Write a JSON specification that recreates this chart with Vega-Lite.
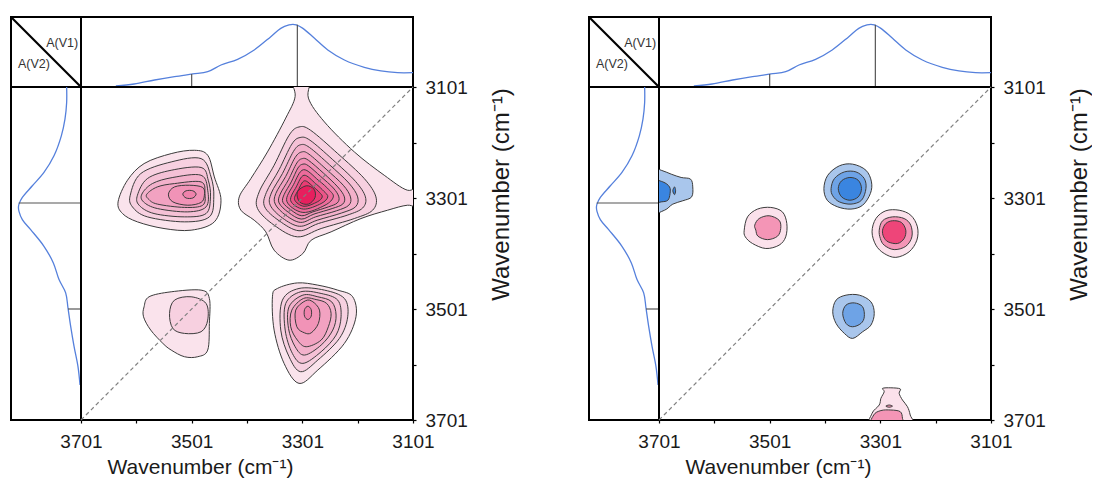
{
"$schema": "https://vega.github.io/schema/vega-lite/v6.json",
"padding": {"left": 8, "top": 14, "right": 0, "bottom": 0},
"bounds": "flush",
"spacing": 0,
"columns": 5,
"resolve": {"scale": {"fill": "independent"}},
"datasets": {
"spec": [
{"w":3101,"a":0.205},{"w":3129,"a":0.205},{"w":3159,"a":0.229},{"w":3189,"a":0.281},{"w":3225,"a":0.386},{"w":3255,"a":0.529},{"w":3279,"a":0.695},{"w":3300,"a":0.838},{"w":3312,"a":0.886},{"w":3318,"a":0.894},{"w":3325,"a":0.886},{"w":3340,"a":0.838},{"w":3358,"a":0.719},{"w":3388,"a":0.529},{"w":3418,"a":0.395},{"w":3448,"a":0.314},{"w":3472,"a":0.219},{"w":3499,"a":0.186},{"w":3532,"a":0.148},{"w":3568,"a":0.1},{"w":3605,"a":0.043},{"w":3638,"a":0.014}
],
"peaks": [{"w":3501,"a":0.186},{"w":3310,"a":0.89}],
"cl": [
{"c":"B01","l":1,"o":1,"x":3320,"y":3085},{"c":"B01","l":1,"o":2,"x":3314,"y":3118},{"c":"B01","l":1,"o":3,"x":3331,"y":3157},{"c":"B01","l":1,"o":4,"x":3364,"y":3218},{"c":"B01","l":1,"o":5,"x":3394,"y":3266},{"c":"B01","l":1,"o":6,"x":3415,"y":3299},{"c":"B01","l":1,"o":7,"x":3412,"y":3323},{"c":"B01","l":1,"o":8,"x":3388,"y":3341},{"c":"B01","l":1,"o":9,"x":3367,"y":3362},{"c":"B01","l":1,"o":10,"x":3352,"y":3395},{"c":"B01","l":1,"o":11,"x":3325,"y":3413},{"c":"B01","l":1,"o":12,"x":3300,"y":3401},{"c":"B01","l":1,"o":13,"x":3285,"y":3377},{"c":"B01","l":1,"o":14,"x":3249,"y":3362},{"c":"B01","l":1,"o":15,"x":3195,"y":3338},{"c":"B01","l":1,"o":16,"x":3147,"y":3323},{"c":"B01","l":1,"o":17,"x":3111,"y":3314},{"c":"B01","l":1,"o":18,"x":3087,"y":3317},{"c":"B01","l":1,"o":19,"x":3087,"y":3279},{"c":"B01","l":1,"o":20,"x":3111,"y":3287},{"c":"B01","l":1,"o":21,"x":3153,"y":3260},{"c":"B01","l":1,"o":22,"x":3207,"y":3218},{"c":"B01","l":1,"o":23,"x":3261,"y":3164},{"c":"B01","l":1,"o":24,"x":3290,"y":3121},{"c":"B01","l":1,"o":25,"x":3287,"y":3085},
{"c":"B02","l":2,"o":1,"x":3307,"y":3173},{"c":"B02","l":2,"o":2,"x":3286,"y":3179},{"c":"B02","l":2,"o":3,"x":3237,"y":3221},{"c":"B02","l":2,"o":4,"x":3189,"y":3266},{"c":"B02","l":2,"o":5,"x":3168,"y":3299},{"c":"B02","l":2,"o":6,"x":3174,"y":3323},{"c":"B02","l":2,"o":7,"x":3207,"y":3338},{"c":"B02","l":2,"o":8,"x":3267,"y":3356},{"c":"B02","l":2,"o":9,"x":3310,"y":3371},{"c":"B02","l":2,"o":10,"x":3352,"y":3350},{"c":"B02","l":2,"o":11,"x":3382,"y":3320},{"c":"B02","l":2,"o":12,"x":3379,"y":3290},{"c":"B02","l":2,"o":13,"x":3352,"y":3242},{"c":"B02","l":2,"o":14,"x":3325,"y":3188},
{"c":"B03","l":3,"o":1,"x":3305,"y":3192},{"c":"B03","l":3,"o":2,"x":3287,"y":3197},{"c":"B03","l":3,"o":3,"x":3246,"y":3232},{"c":"B03","l":3,"o":4,"x":3205,"y":3271},{"c":"B03","l":3,"o":5,"x":3187,"y":3299},{"c":"B03","l":3,"o":6,"x":3192,"y":3319},{"c":"B03","l":3,"o":7,"x":3220,"y":3332},{"c":"B03","l":3,"o":8,"x":3272,"y":3347},{"c":"B03","l":3,"o":9,"x":3307,"y":3360},{"c":"B03","l":3,"o":10,"x":3343,"y":3342},{"c":"B03","l":3,"o":11,"x":3369,"y":3317},{"c":"B03","l":3,"o":12,"x":3366,"y":3291},{"c":"B03","l":3,"o":13,"x":3343,"y":3250},{"c":"B03","l":3,"o":14,"x":3320,"y":3204},
{"c":"B04","l":4,"o":1,"x":3304,"y":3205},{"c":"B04","l":4,"o":2,"x":3288,"y":3210},{"c":"B04","l":4,"o":3,"x":3252,"y":3241},{"c":"B04","l":4,"o":4,"x":3217,"y":3274},{"c":"B04","l":4,"o":5,"x":3201,"y":3299},{"c":"B04","l":4,"o":6,"x":3205,"y":3317},{"c":"B04","l":4,"o":7,"x":3230,"y":3328},{"c":"B04","l":4,"o":8,"x":3274,"y":3341},{"c":"B04","l":4,"o":9,"x":3306,"y":3352},{"c":"B04","l":4,"o":10,"x":3337,"y":3337},{"c":"B04","l":4,"o":11,"x":3359,"y":3314},{"c":"B04","l":4,"o":12,"x":3357,"y":3292},{"c":"B04","l":4,"o":13,"x":3337,"y":3257},{"c":"B04","l":4,"o":14,"x":3317,"y":3217},
{"c":"B05","l":5,"o":1,"x":3302,"y":3218},{"c":"B05","l":5,"o":2,"x":3289,"y":3222},{"c":"B05","l":5,"o":3,"x":3258,"y":3249},{"c":"B05","l":5,"o":4,"x":3227,"y":3278},{"c":"B05","l":5,"o":5,"x":3214,"y":3299},{"c":"B05","l":5,"o":6,"x":3217,"y":3314},{"c":"B05","l":5,"o":7,"x":3239,"y":3324},{"c":"B05","l":5,"o":8,"x":3277,"y":3335},{"c":"B05","l":5,"o":9,"x":3304,"y":3345},{"c":"B05","l":5,"o":10,"x":3331,"y":3332},{"c":"B05","l":5,"o":11,"x":3350,"y":3312},{"c":"B05","l":5,"o":12,"x":3349,"y":3293},{"c":"B05","l":5,"o":13,"x":3331,"y":3262},{"c":"B05","l":5,"o":14,"x":3314,"y":3228},
{"c":"B06","l":6,"o":1,"x":3301,"y":3230},{"c":"B06","l":6,"o":2,"x":3290,"y":3233},{"c":"B06","l":6,"o":3,"x":3263,"y":3256},{"c":"B06","l":6,"o":4,"x":3237,"y":3281},{"c":"B06","l":6,"o":5,"x":3225,"y":3299},{"c":"B06","l":6,"o":6,"x":3228,"y":3312},{"c":"B06","l":6,"o":7,"x":3247,"y":3320},{"c":"B06","l":6,"o":8,"x":3280,"y":3330},{"c":"B06","l":6,"o":9,"x":3303,"y":3339},{"c":"B06","l":6,"o":10,"x":3326,"y":3327},{"c":"B06","l":6,"o":11,"x":3343,"y":3310},{"c":"B06","l":6,"o":12,"x":3341,"y":3294},{"c":"B06","l":6,"o":13,"x":3326,"y":3268},{"c":"B06","l":6,"o":14,"x":3311,"y":3238},
{"c":"B07","l":7,"o":1,"x":3300,"y":3240},{"c":"B07","l":7,"o":2,"x":3290,"y":3243},{"c":"B07","l":7,"o":3,"x":3268,"y":3262},{"c":"B07","l":7,"o":4,"x":3245,"y":3283},{"c":"B07","l":7,"o":5,"x":3235,"y":3299},{"c":"B07","l":7,"o":6,"x":3238,"y":3310},{"c":"B07","l":7,"o":7,"x":3254,"y":3317},{"c":"B07","l":7,"o":8,"x":3282,"y":3326},{"c":"B07","l":7,"o":9,"x":3302,"y":3333},{"c":"B07","l":7,"o":10,"x":3321,"y":3323},{"c":"B07","l":7,"o":11,"x":3336,"y":3309},{"c":"B07","l":7,"o":12,"x":3334,"y":3295},{"c":"B07","l":7,"o":13,"x":3321,"y":3272},{"c":"B07","l":7,"o":14,"x":3309,"y":3247},
{"c":"B08","l":8,"o":1,"x":3299,"y":3250},{"c":"B08","l":8,"o":2,"x":3272,"y":3269},{"c":"B08","l":8,"o":3,"x":3253,"y":3286},{"c":"B08","l":8,"o":4,"x":3245,"y":3299},{"c":"B08","l":8,"o":5,"x":3260,"y":3314},{"c":"B08","l":8,"o":6,"x":3300,"y":3327},{"c":"B08","l":8,"o":7,"x":3329,"y":3307},{"c":"B08","l":8,"o":8,"x":3317,"y":3277},
{"c":"B09","l":9,"o":1,"x":3298,"y":3260},{"c":"B09","l":9,"o":2,"x":3277,"y":3275},{"c":"B09","l":9,"o":3,"x":3262,"y":3289},{"c":"B09","l":9,"o":4,"x":3255,"y":3299},{"c":"B09","l":9,"o":5,"x":3267,"y":3311},{"c":"B09","l":9,"o":6,"x":3299,"y":3321},{"c":"B09","l":9,"o":7,"x":3322,"y":3306},{"c":"B09","l":9,"o":8,"x":3312,"y":3281},
{"c":"B10","l":10,"o":1,"x":3297,"y":3270},{"c":"B10","l":10,"o":2,"x":3281,"y":3281},{"c":"B10","l":10,"o":3,"x":3270,"y":3291},{"c":"B10","l":10,"o":4,"x":3265,"y":3299},{"c":"B10","l":10,"o":5,"x":3274,"y":3308},{"c":"B10","l":10,"o":6,"x":3298,"y":3316},{"c":"B10","l":10,"o":7,"x":3315,"y":3304},{"c":"B10","l":10,"o":8,"x":3308,"y":3286},
{"c":"B11","l":11,"o":1,"x":3294,"y":3279},{"c":"B11","l":11,"o":2,"x":3280,"y":3285},{"c":"B11","l":11,"o":3,"x":3278,"y":3300},{"c":"B11","l":11,"o":4,"x":3290,"y":3312},{"c":"B11","l":11,"o":5,"x":3306,"y":3308},{"c":"B11","l":11,"o":6,"x":3310,"y":3290},
{"c":"C1","l":1,"o":1,"x":3634,"y":3308},{"c":"C1","l":1,"o":2,"x":3617,"y":3269},{"c":"C1","l":1,"o":3,"x":3587,"y":3239},{"c":"C1","l":1,"o":4,"x":3538,"y":3221},{"c":"C1","l":1,"o":5,"x":3496,"y":3215},{"c":"C1","l":1,"o":6,"x":3472,"y":3224},{"c":"C1","l":1,"o":7,"x":3460,"y":3263},{"c":"C1","l":1,"o":8,"x":3448,"y":3305},{"c":"C1","l":1,"o":9,"x":3460,"y":3344},{"c":"C1","l":1,"o":10,"x":3502,"y":3359},{"c":"C1","l":1,"o":11,"x":3551,"y":3356},{"c":"C1","l":1,"o":12,"x":3599,"y":3344},{"c":"C1","l":1,"o":13,"x":3626,"y":3329},
{"c":"C2","l":2,"o":1,"x":3612,"y":3296},{"c":"C2","l":2,"o":2,"x":3593,"y":3257},{"c":"C2","l":2,"o":3,"x":3538,"y":3236},{"c":"C2","l":2,"o":4,"x":3484,"y":3230},{"c":"C2","l":2,"o":5,"x":3466,"y":3263},{"c":"C2","l":2,"o":6,"x":3461,"y":3299},{"c":"C2","l":2,"o":7,"x":3469,"y":3335},{"c":"C2","l":2,"o":8,"x":3514,"y":3344},{"c":"C2","l":2,"o":9,"x":3581,"y":3335},{"c":"C2","l":2,"o":10,"x":3608,"y":3317},
{"c":"C3","l":3,"o":1,"x":3599,"y":3296},{"c":"C3","l":3,"o":2,"x":3581,"y":3266},{"c":"C3","l":3,"o":3,"x":3538,"y":3251},{"c":"C3","l":3,"o":4,"x":3484,"y":3246},{"c":"C3","l":3,"o":5,"x":3471,"y":3269},{"c":"C3","l":3,"o":6,"x":3467,"y":3299},{"c":"C3","l":3,"o":7,"x":3475,"y":3329},{"c":"C3","l":3,"o":8,"x":3514,"y":3335},{"c":"C3","l":3,"o":9,"x":3569,"y":3329},{"c":"C3","l":3,"o":10,"x":3596,"y":3314},
{"c":"C4","l":4,"o":1,"x":3591,"y":3294},{"c":"C4","l":4,"o":2,"x":3572,"y":3275},{"c":"C4","l":4,"o":3,"x":3535,"y":3264},{"c":"C4","l":4,"o":4,"x":3484,"y":3260},{"c":"C4","l":4,"o":5,"x":3472,"y":3287},{"c":"C4","l":4,"o":6,"x":3475,"y":3317},{"c":"C4","l":4,"o":7,"x":3508,"y":3326},{"c":"C4","l":4,"o":8,"x":3563,"y":3320},{"c":"C4","l":4,"o":9,"x":3588,"y":3308},
{"c":"C5","l":5,"o":1,"x":3582,"y":3294},{"c":"C5","l":5,"o":2,"x":3563,"y":3281},{"c":"C5","l":5,"o":3,"x":3532,"y":3275},{"c":"C5","l":5,"o":4,"x":3484,"y":3272},{"c":"C5","l":5,"o":5,"x":3477,"y":3293},{"c":"C5","l":5,"o":6,"x":3481,"y":3314},{"c":"C5","l":5,"o":7,"x":3514,"y":3318},{"c":"C5","l":5,"o":8,"x":3563,"y":3312},{"c":"C5","l":5,"o":9,"x":3579,"y":3303},
{"c":"C6","l":6,"o":1,"x":3543,"y":3294},{"c":"C6","l":6,"o":2,"x":3532,"y":3281},{"c":"C6","l":6,"o":3,"x":3505,"y":3278},{"c":"C6","l":6,"o":4,"x":3481,"y":3282},{"c":"C6","l":6,"o":5,"x":3478,"y":3296},{"c":"C6","l":6,"o":6,"x":3484,"y":3309},{"c":"C6","l":6,"o":7,"x":3508,"y":3314},{"c":"C6","l":6,"o":8,"x":3535,"y":3308},
{"c":"C7","l":7,"o":1,"x":3517,"y":3294},{"c":"C7","l":7,"o":2,"x":3511,"y":3288},{"c":"C7","l":7,"o":3,"x":3499,"y":3288},{"c":"C7","l":7,"o":4,"x":3493,"y":3294},{"c":"C7","l":7,"o":5,"x":3499,"y":3301},{"c":"C7","l":7,"o":6,"x":3511,"y":3301},
{"c":"E1","l":1,"o":1,"x":3587,"y":3497},{"c":"E1","l":1,"o":2,"x":3578,"y":3479},{"c":"E1","l":1,"o":3,"x":3538,"y":3470},{"c":"E1","l":1,"o":4,"x":3484,"y":3467},{"c":"E1","l":1,"o":5,"x":3469,"y":3482},{"c":"E1","l":1,"o":6,"x":3469,"y":3527},{"c":"E1","l":1,"o":7,"x":3472,"y":3575},{"c":"E1","l":1,"o":8,"x":3490,"y":3587},{"c":"E1","l":1,"o":9,"x":3514,"y":3587},{"c":"E1","l":1,"o":10,"x":3538,"y":3575},{"c":"E1","l":1,"o":11,"x":3553,"y":3563},{"c":"E1","l":1,"o":12,"x":3575,"y":3539},{"c":"E1","l":1,"o":13,"x":3588,"y":3515},
{"c":"E2","l":2,"o":1,"x":3541,"y":3509},{"c":"E2","l":2,"o":2,"x":3532,"y":3485},{"c":"E2","l":2,"o":3,"x":3502,"y":3479},{"c":"E2","l":2,"o":4,"x":3475,"y":3491},{"c":"E2","l":2,"o":5,"x":3472,"y":3521},{"c":"E2","l":2,"o":6,"x":3484,"y":3542},{"c":"E2","l":2,"o":7,"x":3514,"y":3545},{"c":"E2","l":2,"o":8,"x":3535,"y":3536},
{"c":"F1","l":1,"o":1,"x":3310,"y":3454},{"c":"F1","l":1,"o":2,"x":3346,"y":3464},{"c":"F1","l":1,"o":3,"x":3355,"y":3479},{"c":"F1","l":1,"o":4,"x":3352,"y":3539},{"c":"F1","l":1,"o":5,"x":3334,"y":3599},{"c":"F1","l":1,"o":6,"x":3307,"y":3635},{"c":"F1","l":1,"o":7,"x":3273,"y":3611},{"c":"F1","l":1,"o":8,"x":3225,"y":3563},{"c":"F1","l":1,"o":9,"x":3204,"y":3515},{"c":"F1","l":1,"o":10,"x":3210,"y":3479},{"c":"F1","l":1,"o":11,"x":3237,"y":3467},{"c":"F1","l":1,"o":12,"x":3273,"y":3458},
{"c":"F2","l":2,"o":1,"x":3307,"y":3464},{"c":"F2","l":2,"o":2,"x":3337,"y":3485},{"c":"F2","l":2,"o":3,"x":3340,"y":3539},{"c":"F2","l":2,"o":4,"x":3325,"y":3587},{"c":"F2","l":2,"o":5,"x":3304,"y":3614},{"c":"F2","l":2,"o":6,"x":3273,"y":3593},{"c":"F2","l":2,"o":7,"x":3234,"y":3554},{"c":"F2","l":2,"o":8,"x":3219,"y":3515},{"c":"F2","l":2,"o":9,"x":3225,"y":3482},{"c":"F2","l":2,"o":10,"x":3261,"y":3467},
{"c":"F3","l":3,"o":1,"x":3304,"y":3470},{"c":"F3","l":3,"o":2,"x":3331,"y":3491},{"c":"F3","l":3,"o":3,"x":3332,"y":3539},{"c":"F3","l":3,"o":4,"x":3319,"y":3581},{"c":"F3","l":3,"o":5,"x":3300,"y":3599},{"c":"F3","l":3,"o":6,"x":3267,"y":3578},{"c":"F3","l":3,"o":7,"x":3240,"y":3548},{"c":"F3","l":3,"o":8,"x":3231,"y":3515},{"c":"F3","l":3,"o":9,"x":3237,"y":3485},{"c":"F3","l":3,"o":10,"x":3267,"y":3473},
{"c":"F4","l":4,"o":1,"x":3300,"y":3476},{"c":"F4","l":4,"o":2,"x":3325,"y":3497},{"c":"F4","l":4,"o":3,"x":3326,"y":3536},{"c":"F4","l":4,"o":4,"x":3314,"y":3569},{"c":"F4","l":4,"o":5,"x":3297,"y":3584},{"c":"F4","l":4,"o":6,"x":3267,"y":3566},{"c":"F4","l":4,"o":7,"x":3246,"y":3539},{"c":"F4","l":4,"o":8,"x":3240,"y":3512},{"c":"F4","l":4,"o":9,"x":3248,"y":3488},{"c":"F4","l":4,"o":10,"x":3273,"y":3479},
{"c":"F5","l":5,"o":1,"x":3299,"y":3482},{"c":"F5","l":5,"o":2,"x":3320,"y":3503},{"c":"F5","l":5,"o":3,"x":3322,"y":3533},{"c":"F5","l":5,"o":4,"x":3310,"y":3557},{"c":"F5","l":5,"o":5,"x":3294,"y":3569},{"c":"F5","l":5,"o":6,"x":3267,"y":3557},{"c":"F5","l":5,"o":7,"x":3254,"y":3533},{"c":"F5","l":5,"o":8,"x":3249,"y":3509},{"c":"F5","l":5,"o":9,"x":3257,"y":3491},{"c":"F5","l":5,"o":10,"x":3276,"y":3484},
{"c":"F6","l":6,"o":1,"x":3295,"y":3486},{"c":"F6","l":6,"o":2,"x":3313,"y":3503},{"c":"F6","l":6,"o":3,"x":3311,"y":3533},{"c":"F6","l":6,"o":4,"x":3297,"y":3544},{"c":"F6","l":6,"o":5,"x":3285,"y":3544},{"c":"F6","l":6,"o":6,"x":3272,"y":3527},{"c":"F6","l":6,"o":7,"x":3270,"y":3503},{"c":"F6","l":6,"o":8,"x":3282,"y":3488},
{"c":"F7","l":7,"o":1,"x":3291,"y":3496},{"c":"F7","l":7,"o":2,"x":3297,"y":3502},{"c":"F7","l":7,"o":3,"x":3297,"y":3514},{"c":"F7","l":7,"o":4,"x":3291,"y":3520},{"c":"F7","l":7,"o":5,"x":3285,"y":3514},{"c":"F7","l":7,"o":6,"x":3285,"y":3502}
],
"cr": [
{"c":"P1a","l":-1,"o":1,"x":3715,"y":3248},{"c":"P1a","l":-1,"o":2,"x":3697,"y":3251},{"c":"P1a","l":-1,"o":3,"x":3679,"y":3258},{"c":"P1a","l":-1,"o":4,"x":3661,"y":3264},{"c":"P1a","l":-1,"o":5,"x":3644,"y":3267},{"c":"P1a","l":-1,"o":6,"x":3640,"y":3281},{"c":"P1a","l":-1,"o":7,"x":3642,"y":3299},{"c":"P1a","l":-1,"o":8,"x":3658,"y":3306},{"c":"P1a","l":-1,"o":9,"x":3676,"y":3312},{"c":"P1a","l":-1,"o":10,"x":3691,"y":3323},{"c":"P1a","l":-1,"o":11,"x":3715,"y":3327},{"c":"P1a","l":-1,"o":12,"x":3727,"y":3287},
{"c":"P1b","l":-3,"o":1,"x":3715,"y":3269},{"c":"P1b","l":-3,"o":2,"x":3694,"y":3272},{"c":"P1b","l":-3,"o":3,"x":3682,"y":3281},{"c":"P1b","l":-3,"o":4,"x":3681,"y":3293},{"c":"P1b","l":-3,"o":5,"x":3685,"y":3305},{"c":"P1b","l":-3,"o":6,"x":3697,"y":3308},{"c":"P1b","l":-3,"o":7,"x":3715,"y":3309},{"c":"P1b","l":-3,"o":8,"x":3727,"y":3290},
{"c":"P1c","l":-3,"o":1,"x":3673,"y":3281},{"c":"P1c","l":-3,"o":2,"x":3671,"y":3288},{"c":"P1c","l":-3,"o":3,"x":3673,"y":3295},{"c":"P1c","l":-3,"o":4,"x":3676,"y":3288},
{"c":"P2a","l":1,"o":1,"x":3547,"y":3359},{"c":"P2a","l":1,"o":2,"x":3541,"y":3335},{"c":"P2a","l":1,"o":3,"x":3523,"y":3321},{"c":"P2a","l":1,"o":4,"x":3499,"y":3318},{"c":"P2a","l":1,"o":5,"x":3478,"y":3326},{"c":"P2a","l":1,"o":6,"x":3470,"y":3347},{"c":"P2a","l":1,"o":7,"x":3472,"y":3371},{"c":"P2a","l":1,"o":8,"x":3484,"y":3386},{"c":"P2a","l":1,"o":9,"x":3508,"y":3392},{"c":"P2a","l":1,"o":10,"x":3532,"y":3383},{"c":"P2a","l":1,"o":11,"x":3545,"y":3371},
{"c":"P2b","l":2,"o":1,"x":3528,"y":3350},{"c":"P2b","l":2,"o":2,"x":3520,"y":3338},{"c":"P2b","l":2,"o":3,"x":3502,"y":3333},{"c":"P2b","l":2,"o":4,"x":3484,"y":3341},{"c":"P2b","l":2,"o":5,"x":3481,"y":3356},{"c":"P2b","l":2,"o":6,"x":3487,"y":3370},{"c":"P2b","l":2,"o":7,"x":3505,"y":3376},{"c":"P2b","l":2,"o":8,"x":3522,"y":3370},{"c":"P2b","l":2,"o":9,"x":3526,"y":3359},
{"c":"P3a","l":-1,"o":1,"x":3403,"y":3284},{"c":"P3a","l":-1,"o":2,"x":3396,"y":3260},{"c":"P3a","l":-1,"o":3,"x":3375,"y":3243},{"c":"P3a","l":-1,"o":4,"x":3351,"y":3240},{"c":"P3a","l":-1,"o":5,"x":3327,"y":3251},{"c":"P3a","l":-1,"o":6,"x":3317,"y":3272},{"c":"P3a","l":-1,"o":7,"x":3319,"y":3293},{"c":"P3a","l":-1,"o":8,"x":3333,"y":3314},{"c":"P3a","l":-1,"o":9,"x":3354,"y":3321},{"c":"P3a","l":-1,"o":10,"x":3378,"y":3317},{"c":"P3a","l":-1,"o":11,"x":3397,"y":3305},
{"c":"P3b","l":-2,"o":1,"x":3390,"y":3284},{"c":"P3b","l":-2,"o":2,"x":3384,"y":3266},{"c":"P3b","l":-2,"o":3,"x":3366,"y":3254},{"c":"P3b","l":-2,"o":4,"x":3345,"y":3254},{"c":"P3b","l":-2,"o":5,"x":3330,"y":3266},{"c":"P3b","l":-2,"o":6,"x":3327,"y":3284},{"c":"P3b","l":-2,"o":7,"x":3335,"y":3305},{"c":"P3b","l":-2,"o":8,"x":3354,"y":3312},{"c":"P3b","l":-2,"o":9,"x":3375,"y":3308},{"c":"P3b","l":-2,"o":10,"x":3387,"y":3297},
{"c":"P3c","l":-3,"o":1,"x":3377,"y":3284},{"c":"P3c","l":-3,"o":2,"x":3371,"y":3270},{"c":"P3c","l":-3,"o":3,"x":3356,"y":3264},{"c":"P3c","l":-3,"o":4,"x":3341,"y":3269},{"c":"P3c","l":-3,"o":5,"x":3335,"y":3284},{"c":"P3c","l":-3,"o":6,"x":3341,"y":3299},{"c":"P3c","l":-3,"o":7,"x":3356,"y":3305},{"c":"P3c","l":-3,"o":8,"x":3371,"y":3299},
{"c":"P4a","l":1,"o":1,"x":3316,"y":3362},{"c":"P4a","l":1,"o":2,"x":3309,"y":3338},{"c":"P4a","l":1,"o":3,"x":3291,"y":3324},{"c":"P4a","l":1,"o":4,"x":3267,"y":3323},{"c":"P4a","l":1,"o":5,"x":3246,"y":3332},{"c":"P4a","l":1,"o":6,"x":3234,"y":3353},{"c":"P4a","l":1,"o":7,"x":3235,"y":3377},{"c":"P4a","l":1,"o":8,"x":3249,"y":3398},{"c":"P4a","l":1,"o":9,"x":3273,"y":3408},{"c":"P4a","l":1,"o":10,"x":3294,"y":3401},{"c":"P4a","l":1,"o":11,"x":3309,"y":3386},
{"c":"P4b","l":2,"o":1,"x":3303,"y":3359},{"c":"P4b","l":2,"o":2,"x":3297,"y":3342},{"c":"P4b","l":2,"o":3,"x":3279,"y":3335},{"c":"P4b","l":2,"o":4,"x":3258,"y":3338},{"c":"P4b","l":2,"o":5,"x":3246,"y":3350},{"c":"P4b","l":2,"o":6,"x":3244,"y":3371},{"c":"P4b","l":2,"o":7,"x":3255,"y":3388},{"c":"P4b","l":2,"o":8,"x":3276,"y":3394},{"c":"P4b","l":2,"o":9,"x":3294,"y":3386},{"c":"P4b","l":2,"o":10,"x":3301,"y":3374},
{"c":"P4c","l":3,"o":1,"x":3297,"y":3359},{"c":"P4c","l":3,"o":2,"x":3291,"y":3347},{"c":"P4c","l":3,"o":3,"x":3279,"y":3342},{"c":"P4c","l":3,"o":4,"x":3263,"y":3345},{"c":"P4c","l":3,"o":5,"x":3255,"y":3359},{"c":"P4c","l":3,"o":6,"x":3258,"y":3374},{"c":"P4c","l":3,"o":7,"x":3270,"y":3383},{"c":"P4c","l":3,"o":8,"x":3287,"y":3380},{"c":"P4c","l":3,"o":9,"x":3295,"y":3371},
{"c":"P5a","l":-1,"o":1,"x":3387,"y":3506},{"c":"P5a","l":-1,"o":2,"x":3381,"y":3485},{"c":"P5a","l":-1,"o":3,"x":3363,"y":3476},{"c":"P5a","l":-1,"o":4,"x":3339,"y":3476},{"c":"P5a","l":-1,"o":5,"x":3318,"y":3488},{"c":"P5a","l":-1,"o":6,"x":3312,"y":3509},{"c":"P5a","l":-1,"o":7,"x":3318,"y":3530},{"c":"P5a","l":-1,"o":8,"x":3333,"y":3542},{"c":"P5a","l":-1,"o":9,"x":3351,"y":3554},{"c":"P5a","l":-1,"o":10,"x":3366,"y":3545},{"c":"P5a","l":-1,"o":11,"x":3381,"y":3527},
{"c":"P5b","l":-2,"o":1,"x":3369,"y":3509},{"c":"P5b","l":-2,"o":2,"x":3363,"y":3494},{"c":"P5b","l":-2,"o":3,"x":3348,"y":3490},{"c":"P5b","l":-2,"o":4,"x":3333,"y":3497},{"c":"P5b","l":-2,"o":5,"x":3330,"y":3515},{"c":"P5b","l":-2,"o":6,"x":3336,"y":3527},{"c":"P5b","l":-2,"o":7,"x":3351,"y":3533},{"c":"P5b","l":-2,"o":8,"x":3363,"y":3527},
{"c":"P6a","l":1,"o":1,"x":3317,"y":3713},{"c":"P6a","l":1,"o":2,"x":3316,"y":3689},{"c":"P6a","l":1,"o":3,"x":3303,"y":3674},{"c":"P6a","l":1,"o":4,"x":3300,"y":3662},{"c":"P6a","l":1,"o":5,"x":3294,"y":3650},{"c":"P6a","l":1,"o":6,"x":3297,"y":3644},{"c":"P6a","l":1,"o":7,"x":3282,"y":3643},{"c":"P6a","l":1,"o":8,"x":3265,"y":3645},{"c":"P6a","l":1,"o":9,"x":3267,"y":3653},{"c":"P6a","l":1,"o":10,"x":3261,"y":3665},{"c":"P6a","l":1,"o":11,"x":3252,"y":3677},{"c":"P6a","l":1,"o":12,"x":3247,"y":3692},{"c":"P6a","l":1,"o":13,"x":3244,"y":3713},
{"c":"P6b","l":2,"o":1,"x":3316,"y":3713},{"c":"P6b","l":2,"o":2,"x":3313,"y":3692},{"c":"P6b","l":2,"o":3,"x":3300,"y":3684},{"c":"P6b","l":2,"o":4,"x":3282,"y":3683},{"c":"P6b","l":2,"o":5,"x":3265,"y":3686},{"c":"P6b","l":2,"o":6,"x":3261,"y":3698},{"c":"P6b","l":2,"o":7,"x":3261,"y":3713},
{"c":"P6c","l":2,"o":1,"x":3291,"y":3676},{"c":"P6c","l":2,"o":2,"x":3285,"y":3674},{"c":"P6c","l":2,"o":3,"x":3279,"y":3676},{"c":"P6c","l":2,"o":4,"x":3285,"y":3678}
]
},
"concat": [
{"width": 70, "height": 70, "data": {"values": [{}]}, "layer": [
{"mark": {"type": "rule", "stroke": "#000", "strokeWidth": 2.2}, "encoding": {"x": {"datum": 0, "type": "quantitative", "scale": {"domain": [0, 1], "nice": false}, "axis": null}, "y": {"datum": 1, "type": "quantitative", "scale": {"domain": [0, 1], "nice": false}, "axis": null}, "x2": {"datum": 1}, "y2": {"datum": 0}}},
{"mark": {"type": "text", "text": "A(V1)", "align": "right", "baseline": "alphabetic", "fontSize": 12.5, "color": "#333"}, "encoding": {"x": {"datum": 0.96, "type": "quantitative"}, "y": {"datum": 0.565, "type": "quantitative"}}},
{"mark": {"type": "text", "text": "A(V2)", "align": "left", "baseline": "alphabetic", "fontSize": 12.5, "color": "#333"}, "encoding": {"x": {"datum": 0.1, "type": "quantitative"}, "y": {"datum": 0.27, "type": "quantitative"}}}
]},
{"width": 332, "height": 70, "layer": [
{"data": {"name": "spec"}, "mark": {"type": "line", "color": "#5580dc", "strokeWidth": 1.3, "interpolate": "catmull-rom", "clip": true}, "encoding": {"x": {"field": "w", "type": "quantitative", "scale": {"domain": [3101, 3701], "reverse": true, "nice": false, "zero": false}, "axis": null}, "y": {"field": "a", "type": "quantitative", "scale": {"domain": [0, 1], "nice": false}, "axis": null}, "order": {"field": "w"}}},
{"data": {"name": "peaks"}, "mark": {"type": "rule", "color": "#555", "strokeWidth": 1.2}, "encoding": {"x": {"field": "w", "type": "quantitative"}, "y": {"field": "a", "type": "quantitative"}, "y2": {"datum": 0}}}
]},
{"width": 176, "height": 70, "data": {"values": []}, "mark": {"type": "point"}, "view": {"stroke": null}},
{"width": 70, "height": 70, "data": {"values": [{}]}, "layer": [
{"mark": {"type": "rule", "stroke": "#000", "strokeWidth": 2.2}, "encoding": {"x": {"datum": 0, "type": "quantitative", "scale": {"domain": [0, 1], "nice": false}, "axis": null}, "y": {"datum": 1, "type": "quantitative", "scale": {"domain": [0, 1], "nice": false}, "axis": null}, "x2": {"datum": 1}, "y2": {"datum": 0}}},
{"mark": {"type": "text", "text": "A(V1)", "align": "right", "baseline": "alphabetic", "fontSize": 12.5, "color": "#333"}, "encoding": {"x": {"datum": 0.96, "type": "quantitative"}, "y": {"datum": 0.565, "type": "quantitative"}}},
{"mark": {"type": "text", "text": "A(V2)", "align": "left", "baseline": "alphabetic", "fontSize": 12.5, "color": "#333"}, "encoding": {"x": {"datum": 0.1, "type": "quantitative"}, "y": {"datum": 0.27, "type": "quantitative"}}}
]},
{"width": 332, "height": 70, "layer": [
{"data": {"name": "spec"}, "mark": {"type": "line", "color": "#5580dc", "strokeWidth": 1.3, "interpolate": "catmull-rom", "clip": true}, "encoding": {"x": {"field": "w", "type": "quantitative", "scale": {"domain": [3101, 3701], "reverse": true, "nice": false, "zero": false}, "axis": null}, "y": {"field": "a", "type": "quantitative", "scale": {"domain": [0, 1], "nice": false}, "axis": null}, "order": {"field": "w"}}},
{"data": {"name": "peaks"}, "mark": {"type": "rule", "color": "#555", "strokeWidth": 1.2}, "encoding": {"x": {"field": "w", "type": "quantitative"}, "y": {"field": "a", "type": "quantitative"}, "y2": {"datum": 0}}}
]},
{"width": 70, "height": 333, "layer": [
{"data": {"name": "spec"}, "mark": {"type": "line", "color": "#5580dc", "strokeWidth": 1.3, "interpolate": "catmull-rom", "clip": true}, "encoding": {"y": {"field": "w", "type": "quantitative", "scale": {"domain": [3101, 3701], "reverse": true, "nice": false, "zero": false}, "axis": null}, "x": {"field": "a", "type": "quantitative", "scale": {"domain": [0, 1], "reverse": true, "nice": false}, "axis": null}, "order": {"field": "w"}}},
{"data": {"name": "peaks"}, "mark": {"type": "rule", "color": "#555", "strokeWidth": 1.2}, "encoding": {"y": {"field": "w", "type": "quantitative"}, "x": {"field": "a", "type": "quantitative"}, "x2": {"datum": 0}}}
]},
{"width": 332, "height": 333, "layer": [
{"data": {"name": "cl"}, "mark": {"type": "line", "interpolate": "cardinal-closed", "stroke": "#3b3b3b", "strokeWidth": 1, "clip": true},
"encoding": {
"x": {"field": "x", "type": "quantitative", "scale": {"domain": [3101, 3701], "reverse": true, "nice": false, "zero": false}, "axis": {"orient": "bottom", "values": [3101, 3201, 3301, 3401, 3501, 3601, 3701], "format": "d", "labelExpr": "datum.value % 200 == 101 ? datum.label : ''", "labelFlush": false, "labelOverlap": false, "title": "Wavenumber (cm⁻¹)", "titleX": 119, "titleY": 53, "titleBaseline": "alphabetic", "titleAlign": "center"}},
"y": {"field": "y", "type": "quantitative", "scale": {"domain": [3101, 3701], "reverse": true, "nice": false, "zero": false}, "axis": {"orient": "right", "values": [3101, 3201, 3301, 3401, 3501, 3601, 3701], "format": "d", "labelExpr": "datum.value % 200 == 101 ? datum.label : ''", "labelFlush": false, "labelOverlap": false, "labelBaseline": "middle", "title": "Wavenumber (cm⁻¹)", "titleFontSize": 24, "titleAngle": 270, "titleX": 95, "titleY": 107, "titleAlign": "center", "titleBaseline": "alphabetic"}},
"detail": {"field": "c"},
"order": {"field": "o"},
"fill": {"field": "l", "type": "ordinal", "scale": {"domain": [1, 2, 3, 4, 5, 6, 7, 8, 9, 10, 11], "range": ["#fae3ec", "#f7d0e0", "#f5c1d6", "#f3b1cb", "#f2a2c1", "#f193b7", "#ef82ab", "#ed6b9b", "#eb5588", "#e93c74", "#e71f5e"]}, "legend": null}
}},
{"data": {"values": [{}]}, "mark": {"type": "rule", "stroke": "#808080", "strokeWidth": 1.2, "strokeDash": [4, 3]}, "encoding": {"x": {"datum": 3701, "type": "quantitative"}, "y": {"datum": 3701, "type": "quantitative"}, "x2": {"datum": 3101}, "y2": {"datum": 3101}}}
]},
{"width": 176, "height": 333, "data": {"values": []}, "mark": {"type": "point"}, "view": {"stroke": null}},
{"width": 70, "height": 333, "layer": [
{"data": {"name": "spec"}, "mark": {"type": "line", "color": "#5580dc", "strokeWidth": 1.3, "interpolate": "catmull-rom", "clip": true}, "encoding": {"y": {"field": "w", "type": "quantitative", "scale": {"domain": [3101, 3701], "reverse": true, "nice": false, "zero": false}, "axis": null}, "x": {"field": "a", "type": "quantitative", "scale": {"domain": [0, 1], "reverse": true, "nice": false}, "axis": null}, "order": {"field": "w"}}},
{"data": {"name": "peaks"}, "mark": {"type": "rule", "color": "#555", "strokeWidth": 1.2}, "encoding": {"y": {"field": "w", "type": "quantitative"}, "x": {"field": "a", "type": "quantitative"}, "x2": {"datum": 0}}}
]},
{"width": 332, "height": 333, "layer": [
{"data": {"name": "cr"}, "mark": {"type": "line", "interpolate": "cardinal-closed", "stroke": "#3b3b3b", "strokeWidth": 1, "clip": true},
"encoding": {
"x": {"field": "x", "type": "quantitative", "scale": {"domain": [3101, 3701], "reverse": true, "nice": false, "zero": false}, "axis": {"orient": "bottom", "values": [3101, 3201, 3301, 3401, 3501, 3601, 3701], "format": "d", "labelExpr": "datum.value % 200 == 101 ? datum.label : ''", "labelFlush": false, "labelOverlap": false, "title": "Wavenumber (cm⁻¹)", "titleX": 119, "titleY": 53, "titleBaseline": "alphabetic", "titleAlign": "center"}},
"y": {"field": "y", "type": "quantitative", "scale": {"domain": [3101, 3701], "reverse": true, "nice": false, "zero": false}, "axis": {"orient": "right", "values": [3101, 3201, 3301, 3401, 3501, 3601, 3701], "format": "d", "labelExpr": "datum.value % 200 == 101 ? datum.label : ''", "labelFlush": false, "labelOverlap": false, "labelBaseline": "middle", "title": "Wavenumber (cm⁻¹)", "titleFontSize": 24, "titleAngle": 270, "titleX": 95, "titleY": 107, "titleAlign": "center", "titleBaseline": "alphabetic"}},
"detail": {"field": "c"},
"order": {"field": "o"},
"fill": {"field": "l", "type": "ordinal", "scale": {"domain": [-3, -2, -1, 1, 2, 3], "range": ["#3a85e0", "#6ea3e6", "#a9c6ec", "#fbe1eb", "#f495b6", "#ee4579"]}, "legend": null}
}},
{"data": {"values": [{}]}, "mark": {"type": "rule", "stroke": "#808080", "strokeWidth": 1.2, "strokeDash": [4, 3]}, "encoding": {"x": {"datum": 3701, "type": "quantitative"}, "y": {"datum": 3701, "type": "quantitative"}, "x2": {"datum": 3101}, "y2": {"datum": 3101}}}
]}
],
"config": {
"view": {"stroke": "#000", "strokeWidth": 2},
"font": "Liberation Sans",
"axis": {"labelFont": "Liberation Sans", "titleFont": "Liberation Sans", "labelFontSize": 19, "titleFontSize": 21, "titleFontWeight": "normal", "labelColor": "#1a1a1a", "titleColor": "#1a1a1a", "domain": false, "grid": false, "ticks": true, "tickColor": "#000", "tickSize": 3, "tickWidth": 1.2, "labelPadding": 9},
"text": {"font": "Liberation Sans"}
}
}
